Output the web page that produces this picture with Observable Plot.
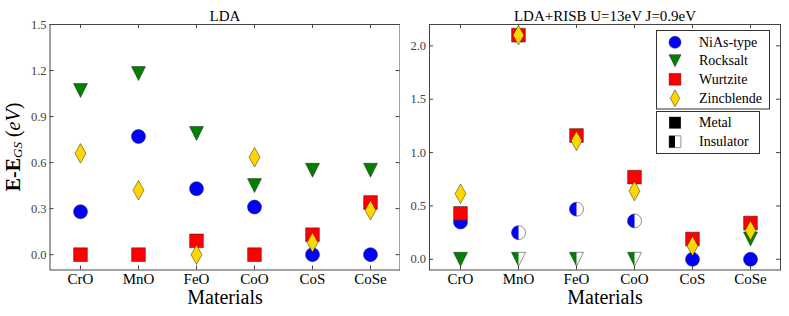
<!DOCTYPE html>
<html><head><meta charset="utf-8">
<script src="https://cdn.jsdelivr.net/npm/d3@7"></script>
<script src="https://cdn.jsdelivr.net/npm/@observablehq/plot@0.6"></script>
<style>
body{margin:0;background:#fff;}
#chart{position:relative;width:789px;height:316px;font-family:'Liberation Serif',serif;}
#chart > svg{position:absolute;top:0;}
#chart text{font-family:'Liberation Serif',serif;}
</style></head><body><div id="chart"></div>
<script>
// ---------- data ----------
const materials = ["CrO", "MnO", "FeO", "CoO", "CoS", "CoSe"];
const seriesNames = ["NiAs-type", "Rocksalt", "Wurtzite", "Zincblende"];
const seriesColors = ["#0000ff", "#007f00", "#ff0000", "#ffd700"];
const stateNames = ["Metal", "Insulator"];

const ldaTitle = "LDA";
const ldaYTicks = [0.0, 0.3, 0.6, 0.9, 1.2, 1.5];
const ldaNiAs       = [0.28, 0.77, 0.43, 0.31, 0.0, 0.0];
const ldaRocksalt   = [1.07, 1.18, 0.79, 0.45, 0.55, 0.55];
const ldaWurtzite   = [0.0, 0.0, 0.09, 0.0, 0.13, 0.34];
const ldaZincblende = [0.66, 0.42, 0.0, 0.635, 0.08, 0.29];

const risbTitle = "LDA+RISB U=13eV J=0.9eV";
const risbYTicks = [0.0, 0.5, 1.0, 1.5, 2.0];
const risbNiAs       = [0.35, 0.25, 0.47, 0.36, 0.0, 0.0];
const risbRocksalt   = [0.0, 0.0, 0.0, 0.0, null, 0.19];
const risbWurtzite   = [0.43, 2.10, 1.16, 0.77, 0.19, 0.34];
const risbZincblende = [0.615, 2.10, 1.11, 0.64, 0.125, 0.27];
const risbNiAsInsulator     = [false, true, true, true, false, false];
const risbRocksaltInsulator = [false, true, true, true, false, false];

const FONT = "Liberation Serif";

// ---------- symbols ----------
const rad = size => Math.sqrt(size / Math.PI);
const shapes = [
  { full: {draw(c, z){const s=rad(z); c.moveTo(s,0); c.arc(0,0,s,0,2*Math.PI); c.closePath();}},
    left: {draw(c, z){const s=rad(z); c.moveTo(0,-s); c.arc(0,0,s,-Math.PI/2,Math.PI/2,true); c.closePath();}} },
  { full: {draw(c, z){const s=rad(z); c.moveTo(-s,-s); c.lineTo(s,-s); c.lineTo(0,s); c.closePath();}},
    left: {draw(c, z){const s=rad(z); c.moveTo(-s,-s); c.lineTo(0,-s); c.lineTo(0,s); c.closePath();}} },
  { full: {draw(c, z){const s=rad(z)*0.98; c.moveTo(-s,-s); c.lineTo(s,-s); c.lineTo(s,s); c.lineTo(-s,s); c.closePath();}},
    left: {draw(c, z){const s=rad(z)*0.98; c.moveTo(-s,-s); c.lineTo(0,-s); c.lineTo(0,s); c.lineTo(-s,s); c.closePath();}} },
  { full: {draw(c, z){const s=rad(z); c.moveTo(0,-1.4*s); c.lineTo(0.78*s,0); c.lineTo(0,1.4*s); c.lineTo(-0.78*s,0); c.closePath();}},
    left: {draw(c, z){const s=rad(z); c.moveTo(0,-1.4*s); c.lineTo(0,1.4*s); c.lineTo(-0.78*s,0); c.closePath();}} }
];

const H = 316, MT = 24, MB = 46.5, R = 7;
const EDGE = "#222";

function panel({title, yDomain, yTicks, values, insul, width, marginLeft, marginRight}) {
  const rows = [];
  values.forEach((arr, i) => arr.forEach((v, j) => {
    if (v != null) rows.push({material: materials[j], value: v, si: i, ins: insul[i] ? insul[i][j] : false});
  }));
  const innerW = width - marginLeft - marginRight, innerH = H - MT - MB;
  const marks = [
    Plot.frame({stroke: "#444", strokeWidth: 1}),
    Plot.tickX(materials, {x: d => d, insetTop: innerH - 4, stroke: "#444"}),
    Plot.tickX(materials, {x: d => d, insetBottom: innerH - 4, stroke: "#444"}),
    Plot.tickY(yTicks, {y: d => d, insetRight: innerW - 4, stroke: "#444"}),
    Plot.tickY(yTicks, {y: d => d, insetLeft: innerW - 4, stroke: "#444"}),
    Plot.axisX({tickSize: 0, tickPadding: 3, fontSize: 15, fontFamily: FONT, label: null, fill: "#000"}),
    Plot.axisY({ticks: yTicks, tickSize: 0, tickPadding: 3.5, fontSize: 12.5, fontFamily: FONT, tickFormat: d3.format(".1f"), label: null, fill: "#444"}),
    Plot.text([title], {frameAnchor: "top", dy: -8, lineAnchor: "middle", fontSize: 15, fontFamily: FONT, text: d => d, fill: "#000"}),
    Plot.text(["Materials"], {frameAnchor: "bottom", dy: 28, lineAnchor: "middle", fontSize: 20, fontFamily: FONT, text: d => d, fill: "#000"})
  ];
  values.forEach((_, i) => {
    const full = rows.filter(r => r.si === i && !r.ins);
    const half = rows.filter(r => r.si === i && r.ins);
    const base = {x: "material", y: "value", r: R};
    marks.push(Plot.dot(full, {...base, symbol: shapes[i].full, fill: seriesColors[i], stroke: EDGE, strokeWidth: 0.5}));
    marks.push(Plot.dot(half, {...base, symbol: shapes[i].full, fill: "#fff", stroke: "none"}));
    marks.push(Plot.dot(half, {...base, symbol: shapes[i].left, fill: seriesColors[i], stroke: "none"}));
    marks.push(Plot.dot(half, {...base, symbol: shapes[i].full, fill: "none", stroke: EDGE, strokeWidth: 0.5}));
  });
  return Plot.plot({
    width, height: H, marginTop: MT, marginBottom: MB, marginLeft, marginRight,
    style: {fontFamily: "'Liberation Serif', serif", fontSize: "13px", color: "#000", background: "transparent"},
    x: {type: "point", domain: materials, padding: 0.5},
    y: {domain: yDomain},
    marks
  });
}

const chart = document.getElementById("chart");
const left = panel({title: ldaTitle, yDomain: [-0.1, 1.5], yTicks: ldaYTicks,
  values: [ldaNiAs, ldaRocksalt, ldaWurtzite, ldaZincblende], insul: [],
  width: 400, marginLeft: 49.5, marginRight: 0.5});
left.style.left = "0px";
chart.appendChild(left);

const right = panel({title: risbTitle, yDomain: [-0.1, 2.2], yTicks: risbYTicks,
  values: [risbNiAs, risbRocksalt, risbWurtzite, risbZincblende], insul: [risbNiAsInsulator, risbRocksaltInsulator],
  width: 389, marginLeft: 29, marginRight: 9});
right.style.left = "400px";
chart.appendChild(right);

// y label
const yl = d3.select(left).append("text")
  .attr("transform", "translate(15,147) rotate(-90)")
  .attr("text-anchor", "middle").attr("dominant-baseline", "middle")
  .attr("font-family", FONT).attr("font-size", 20).attr("fill", "#000");
yl.append("tspan").attr("font-weight", "bold").text("E-E");
yl.append("tspan").attr("font-style", "italic").attr("font-size", 13).attr("dy", 4).text("GS");
yl.append("tspan").attr("dy", -4).text(" (");
yl.append("tspan").attr("font-style", "italic").text("eV");
yl.append("tspan").text(")");

// legend
const lg = d3.select(chart).append("svg").attr("width", 789).attr("height", 316)
  .style("left", "0px").style("pointer-events", "none")
  .attr("font-family", FONT);
lg.append("rect").attr("x", 656.5).attr("y", 30.5).attr("width", 113).attr("height", 78.5)
  .attr("fill", "#fff").attr("stroke", "#333");
lg.append("rect").attr("x", 656.5).attr("y", 111.5).attr("width", 103).attr("height", 42)
  .attr("fill", "#fff").attr("stroke", "#333");
const rowsY = [42.3, 60.7, 79.3, 98.3];
const LR = 6;
seriesNames.forEach((name, i) => {
  lg.append("path").attr("transform", `translate(675,${rowsY[i]})`)
    .attr("d", d3.symbol(shapes[i].full, LR * LR * Math.PI)())
    .attr("fill", seriesColors[i]).attr("stroke", EDGE).attr("stroke-width", 0.5);
  lg.append("text").attr("x", 699).attr("y", rowsY[i]).attr("dy", "0.33em")
    .attr("font-family", FONT).attr("font-size", 14).attr("fill", "#000").text(name);
});
const stateY = [122.7, 141.7];
stateNames.forEach((name, k) => {
  const g = lg.append("g").attr("transform", `translate(675,${stateY[k]})`);
  if (k === 0) {
    g.append("path").attr("d", d3.symbol(shapes[2].full, LR * LR * Math.PI)()).attr("fill", "#000");
  } else {
    g.append("path").attr("d", d3.symbol(shapes[2].full, LR * LR * Math.PI)()).attr("fill", "#fff").attr("stroke", "#777").attr("stroke-width", 0.8);
    g.append("path").attr("d", d3.symbol(shapes[2].left, LR * LR * Math.PI)()).attr("fill", "#000");
  }
  lg.append("text").attr("x", 699).attr("y", stateY[k]).attr("dy", "0.33em")
    .attr("font-family", FONT).attr("font-size", 14).attr("fill", "#000").text(name);
});
</script></body></html>
